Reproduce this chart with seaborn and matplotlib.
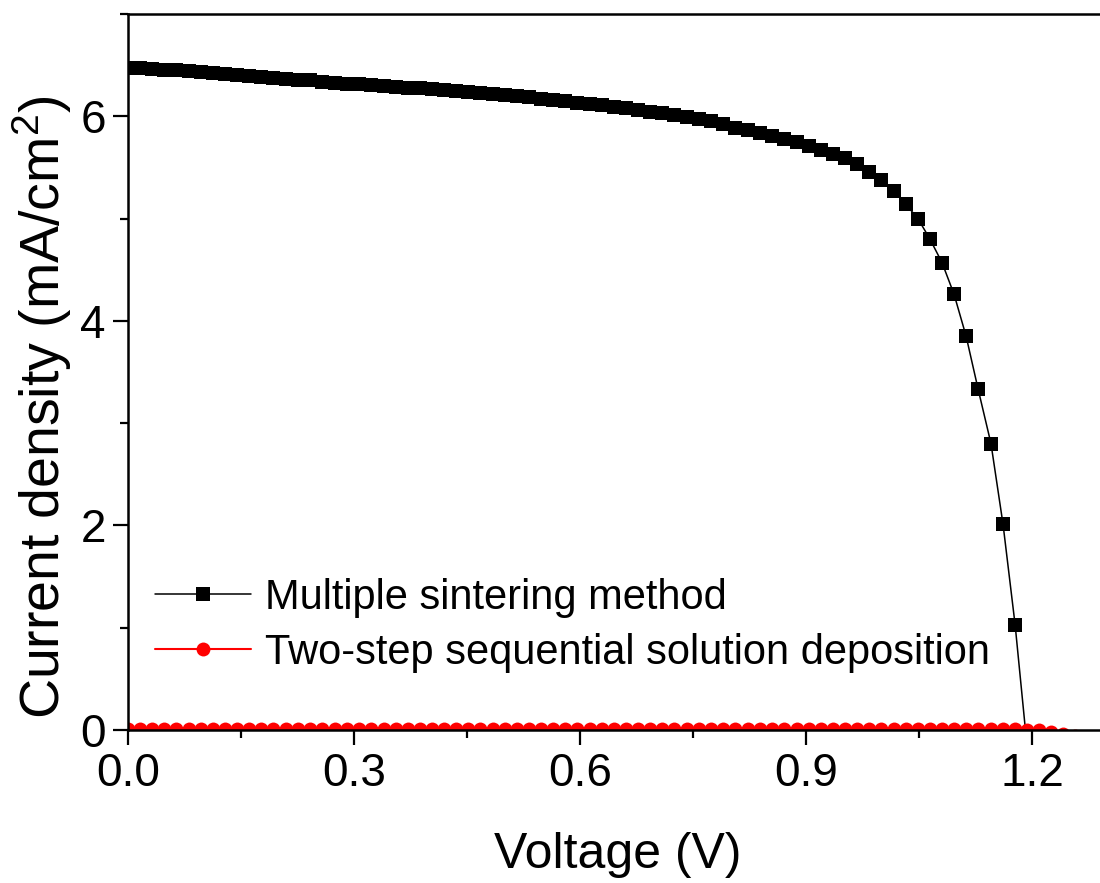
import numpy as np
import pandas as pd
import matplotlib
matplotlib.use("Agg")
import matplotlib.pyplot as plt
import seaborn as sns
from matplotlib.ticker import MultipleLocator, FormatStrFormatter

# ---------------- data ----------------
voltage_ms = [0.000, 0.016, 0.032, 0.048, 0.064, 0.081, 0.097, 0.113, 0.129, 0.145,
              0.161, 0.177, 0.193, 0.210, 0.226, 0.242, 0.258, 0.274, 0.290, 0.306,
              0.322, 0.339, 0.355, 0.371, 0.387, 0.403, 0.419, 0.435, 0.451, 0.467,
              0.484, 0.500, 0.516, 0.532, 0.548, 0.564, 0.580, 0.596, 0.613, 0.629,
              0.645, 0.661, 0.677, 0.693, 0.709, 0.725, 0.742, 0.758, 0.774, 0.790,
              0.806, 0.822, 0.838, 0.854, 0.871, 0.887, 0.903, 0.919, 0.935, 0.951,
              0.967, 0.983, 0.999, 1.016, 1.032, 1.048, 1.064, 1.080, 1.096, 1.112,
              1.128, 1.145, 1.161, 1.177, 1.193]
current_ms = [6.47, 6.47, 6.46, 6.45, 6.45, 6.44, 6.43, 6.42, 6.41, 6.40,
              6.39, 6.38, 6.37, 6.36, 6.35, 6.35, 6.34, 6.33, 6.32, 6.32,
              6.31, 6.30, 6.29, 6.28, 6.28, 6.27, 6.26, 6.25, 6.24, 6.23,
              6.22, 6.21, 6.20, 6.19, 6.17, 6.16, 6.15, 6.13, 6.12, 6.11,
              6.09, 6.08, 6.06, 6.04, 6.03, 6.01, 5.99, 5.97, 5.95, 5.92,
              5.89, 5.87, 5.84, 5.81, 5.78, 5.75, 5.71, 5.67, 5.63, 5.59,
              5.53, 5.46, 5.38, 5.27, 5.14, 5.00, 4.80, 4.57, 4.26, 3.85,
              3.33, 2.80, 2.01, 1.03, -0.17]

voltage_ts = [0.000, 0.016, 0.032, 0.048, 0.064, 0.081, 0.097, 0.113, 0.129, 0.145,
              0.161, 0.177, 0.193, 0.210, 0.226, 0.242, 0.258, 0.274, 0.290, 0.306,
              0.322, 0.339, 0.355, 0.371, 0.387, 0.403, 0.419, 0.435, 0.451, 0.467,
              0.484, 0.500, 0.516, 0.532, 0.548, 0.564, 0.580, 0.596, 0.613, 0.629,
              0.645, 0.661, 0.677, 0.693, 0.709, 0.725, 0.742, 0.758, 0.774, 0.790,
              0.806, 0.822, 0.838, 0.854, 0.871, 0.887, 0.903, 0.919, 0.935, 0.951,
              0.967, 0.983, 0.999, 1.016, 1.032, 1.048, 1.064, 1.080, 1.096, 1.112,
              1.128, 1.145, 1.161, 1.177, 1.193, 1.209, 1.225, 1.241, 1.257]
current_ts = [0.012, 0.012, 0.012, 0.012, 0.012, 0.012, 0.012, 0.012, 0.012, 0.012,
              0.012, 0.012, 0.012, 0.012, 0.012, 0.012, 0.012, 0.012, 0.012, 0.012,
              0.012, 0.012, 0.012, 0.012, 0.012, 0.012, 0.012, 0.012, 0.012, 0.012,
              0.012, 0.012, 0.012, 0.012, 0.012, 0.012, 0.012, 0.012, 0.012, 0.012,
              0.012, 0.012, 0.012, 0.012, 0.012, 0.012, 0.012, 0.012, 0.012, 0.012,
              0.012, 0.012, 0.012, 0.012, 0.012, 0.012, 0.012, 0.012, 0.011, 0.011,
              0.011, 0.011, 0.011, 0.011, 0.011, 0.010, 0.010, 0.010, 0.010, 0.009,
              0.009, 0.008, 0.007, 0.006, 0.004, 0.000, -0.015, -0.035, -0.060]

label_ms = "Multiple sintering method"
label_ts = "Two-step sequential solution deposition"
x_label = "Voltage (V)"
y_label = "Current density (mA/cm$^{2}$)"
x_ticks = [0.0, 0.3, 0.6, 0.9, 1.2]
y_ticks = [0, 2, 4, 6]

# ---------------- style ----------------
sns.set_style("ticks")
plt.rcParams["font.family"] = ["Liberation Sans", "DejaVu Sans"]
plt.rcParams["mathtext.fontset"] = "custom"
plt.rcParams["mathtext.rm"] = "Liberation Sans"
plt.rcParams["mathtext.it"] = "Liberation Sans"
plt.rcParams["text.color"] = "black"
plt.rcParams["axes.labelcolor"] = "black"
plt.rcParams["xtick.color"] = "black"
plt.rcParams["ytick.color"] = "black"

W, H = 1100, 883
fig = plt.figure(figsize=(W / 100, H / 100), dpi=100)
px_per_V = 753.7
x_max = 1.3
ax_left, ax_right_px = 128, 128 + x_max * px_per_V
ax_top, ax_bot = 14, 730
ax_w_px = ax_right_px - ax_left
ax_h_px = ax_bot - ax_top
ax = fig.add_axes([ax_left / W, (H - ax_bot) / H, ax_w_px / W, ax_h_px / H])

df_ms = pd.DataFrame({"V": voltage_ms, "J": current_ms})
df_ts = pd.DataFrame({"V": voltage_ts, "J": current_ts})

sns.lineplot(data=df_ms, x="V", y="J", ax=ax, color="black", lw=1.1,
             marker="s", markersize=9.5, markeredgewidth=0, sort=False,
             label=label_ms, estimator=None)
sns.lineplot(data=df_ts, x="V", y="J", ax=ax, color="#ff0000", lw=1.5,
             marker="o", markersize=10, markeredgewidth=0, sort=False,
             label=label_ts, estimator=None)

ax.set_xlim(0, x_max)
ax.set_ylim(0, 7)
ax.set_xticks(x_ticks)
ax.set_yticks(y_ticks)
ax.xaxis.set_major_formatter(FormatStrFormatter("%.1f"))
ax.xaxis.set_minor_locator(MultipleLocator(0.15))
ax.yaxis.set_minor_locator(MultipleLocator(1))
ax.tick_params(which="major", direction="out", length=11, width=1.6,
               labelsize=33, colors="black", pad=5)
ax.tick_params(which="minor", direction="out", length=6, width=1.6)
for s in ["left", "bottom", "top", "right"]:
    ax.spines[s].set_visible(True)
    ax.spines[s].set_linewidth(1.8)
    ax.spines[s].set_color("black")

ax.set_xlabel(x_label, fontsize=36)
ax.xaxis.set_label_coords((618 - 128) / ax_w_px, (730 - 832) / ax_h_px)
ax.set_ylabel(y_label, fontsize=40)
ax.yaxis.set_label_coords((74 - 128) / ax_w_px, (730 - 407) / ax_h_px)

leg = ax.legend(loc="upper left",
                bbox_to_anchor=((155 - 128) / ax_w_px, (730 - 578) / ax_h_px),
                frameon=False, fontsize=30, handlelength=2.3, handletextpad=0.35,
                borderpad=0, borderaxespad=0, labelspacing=0.35)
for t in leg.get_texts():
    t.set_color("black")

fig.savefig("out.png", dpi=100, facecolor="white")
